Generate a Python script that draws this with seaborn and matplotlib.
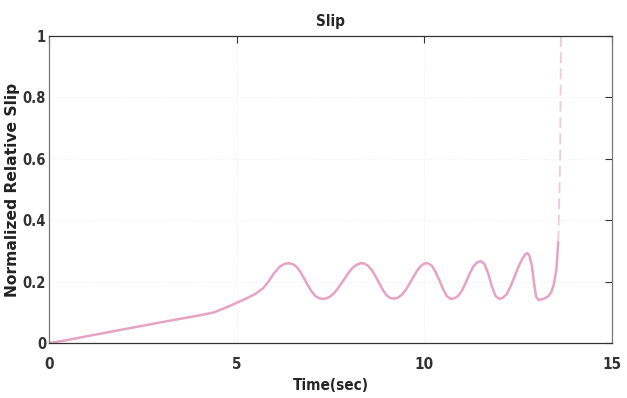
import matplotlib
matplotlib.use("Agg")
import matplotlib.pyplot as plt
import seaborn as sns
import pandas as pd

time_solid = [0.0, 0.5, 1.0, 2.0, 3.0, 4.0, 4.4, 4.8, 5.2, 5.5, 5.7, 5.85, 6.0, 6.15, 6.3,
              6.4, 6.5, 6.6, 6.7, 6.8, 6.9, 7.0, 7.1, 7.2, 7.3, 7.4, 7.5, 7.6, 7.7, 7.8,
              7.9, 8.0, 8.1, 8.2, 8.3, 8.4, 8.5, 8.6, 8.7, 8.8, 8.9, 9.0, 9.1, 9.2, 9.3,
              9.4, 9.5, 9.6, 9.7, 9.8, 9.9, 10.0, 10.1, 10.2, 10.3, 10.4, 10.5, 10.6,
              10.7, 10.8, 10.9, 11.0, 11.1, 11.2, 11.3, 11.4, 11.5, 11.6, 11.7, 11.8,
              11.9, 12.0, 12.1, 12.2, 12.3, 12.4, 12.5, 12.6, 12.7, 12.75, 12.8, 12.87,
              12.93, 12.98, 13.05, 13.2, 13.3, 13.38, 13.45, 13.52, 13.57]
slip_solid = [0.0, 0.01, 0.022, 0.045, 0.068, 0.09, 0.10, 0.12, 0.142, 0.16, 0.178, 0.20,
              0.228, 0.249, 0.259, 0.26, 0.257, 0.248, 0.232, 0.21, 0.188, 0.168, 0.153,
              0.146, 0.144, 0.146, 0.152, 0.163, 0.178, 0.196, 0.214, 0.232, 0.246, 0.255,
              0.26, 0.259, 0.252, 0.238, 0.218, 0.195, 0.172, 0.155, 0.146, 0.145, 0.148,
              0.157, 0.172, 0.192, 0.213, 0.234, 0.25, 0.259, 0.26, 0.252, 0.232, 0.205,
              0.176, 0.153, 0.144, 0.146, 0.153, 0.17, 0.195, 0.224, 0.248, 0.262, 0.267,
              0.258, 0.228, 0.185, 0.153, 0.144, 0.148, 0.16, 0.185, 0.215, 0.246, 0.272,
              0.29, 0.293, 0.285, 0.25, 0.19, 0.15, 0.14, 0.145, 0.152, 0.165, 0.19, 0.24,
              0.33]
time_dash = [13.57, 13.62, 13.64, 14.0]
slip_dash = [0.33, 0.6, 1.0, 1.0]

x_ticks = [0, 5, 10, 15]
y_ticks = [0, 0.2, 0.4, 0.6, 0.8, 1]
y_tick_labels = ["0", "0.2", "0.4", "0.6", "0.8", "1"]

sns.set_style("white")
narrow = ["Liberation Sans Narrow", "DejaVu Sans"]
line_color = "#e6a3c3"

fig = plt.figure(figsize=(6.27, 3.98), dpi=100)
ax = fig.add_axes([0.078, 0.138, 0.898, 0.7715])

df1 = pd.DataFrame({"t": time_solid, "s": slip_solid})
df2 = pd.DataFrame({"t": time_dash, "s": slip_dash})
sns.lineplot(data=df1, x="t", y="s", ax=ax, color=line_color, lw=1.8, sort=False)
sns.lineplot(data=df2, x="t", y="s", ax=ax, color="#f2c8da", lw=1.3, sort=False,
             linestyle=(0, (6, 3)))

tick_font = dict(family=narrow, fontweight="bold", fontsize=11, fontstretch="condensed")
ytick_font = dict(family=narrow, fontweight="bold", fontsize=10.5, fontstretch="condensed")
ax.set_xlim(0, 15)
ax.set_ylim(0, 1)
ax.set_xticks(x_ticks)
ax.set_xticklabels([str(v) for v in x_ticks], **tick_font)
ax.set_yticks(y_ticks)
ax.set_yticklabels(y_tick_labels, **ytick_font)
ax.tick_params(axis="x", direction="in", length=5, width=0.8, top=True,
               colors="#333333", pad=10)
ax.tick_params(axis="y", direction="in", length=5, width=0.8, right=True,
               colors="#333333", pad=2)
ax.grid(True, color="#ececec", lw=0.7, linestyle=":")
for side in ["bottom", "top"]:
    ax.spines[side].set_color("#333333")
for side in ["left", "right"]:
    ax.spines[side].set_color("#777777")
for s in ax.spines.values():
    s.set_linewidth(0.9)
    s.set_visible(True)

ax.set_title("Slip", pad=7, **tick_font)
ax.set_xlabel("Time(sec)", labelpad=4, **tick_font)
ax.set_ylabel("Normalized Relative Slip", family="DejaVu Sans", fontweight="bold",
              fontsize=11.2, color="#222222")
ax.yaxis.set_label_coords(-0.052, 0.5)

fig.savefig("out.png", dpi=100)
